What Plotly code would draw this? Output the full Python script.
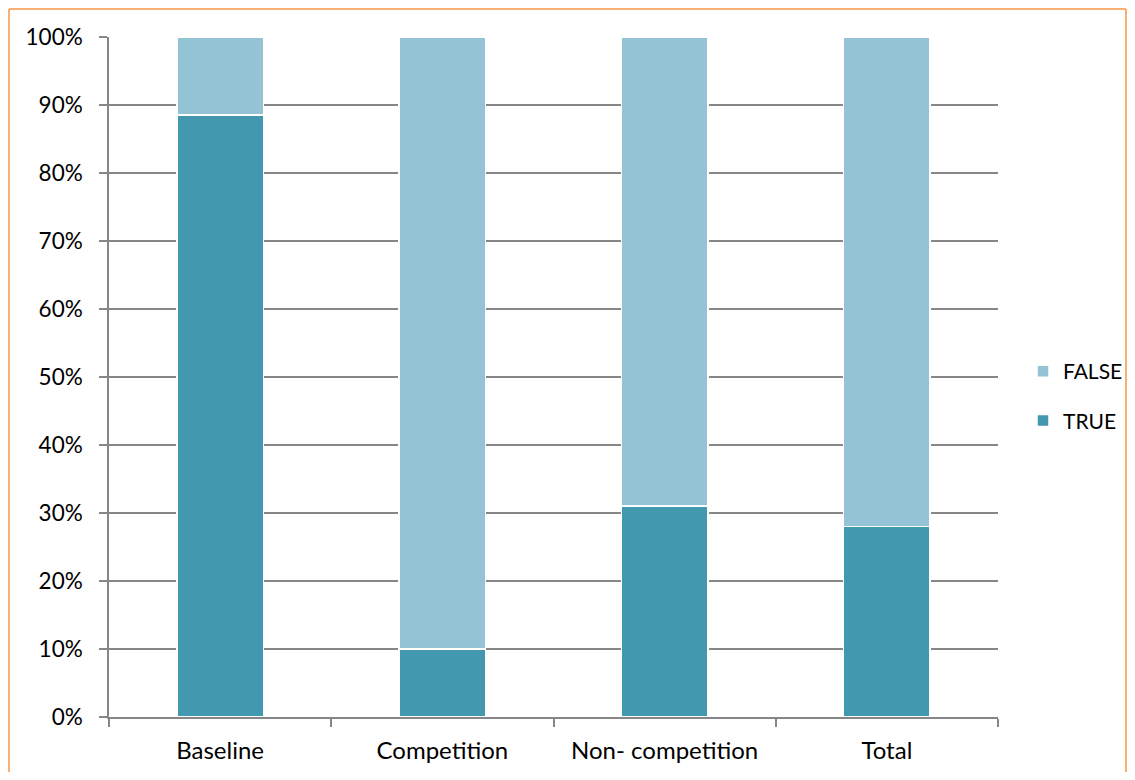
import plotly.graph_objects as go

categories = ["Baseline", "Competition", "Non- competition", "Total"]
true_pct = [88.5, 10, 31, 28]
false_pct = [11.5, 90, 69, 72]
y_ticks = [0, 10, 20, 30, 40, 50, 60, 70, 80, 90, 100]
y_tick_labels = [f"{v}%" for v in y_ticks]

FONT = "Lato, Carlito, Calibri, sans-serif"
OFF = 8  # page body margin
W, H = 1135 - 2 * OFF, 780 - 2 * OFF
L, T = 109 - OFF, 37 - OFF
R = W + OFF - 998
B = H + OFF - 717
pw, ph = W - L - R, H - T - B

def px_x(p):
    return (p - OFF - L) / pw

def px_y(p):
    return (H - B - (p - OFF)) / ph

fig = go.Figure()
fig.add_trace(go.Bar(x=categories, y=true_pct, name="TRUE", legendrank=2, legendgroup="t",
                     marker=dict(color="#4298AF", line=dict(color="white", width=1.5)),
                     width=0.39))
fig.add_trace(go.Bar(x=categories, y=false_pct, name="FALSE", legendrank=1, legendgroup="f",
                     marker=dict(color="#93C3D4", line=dict(color="white", width=1.5)),
                     width=0.39))

border = dict(color="#F79646", width=1.5)
bx0, bx1, by0, by1 = px_x(9), px_x(1126), px_y(790), px_y(9)

fig.update_layout(
    width=W, height=H,
    barmode="stack",
    margin=dict(l=L, r=R, t=T, b=B, pad=0, autoexpand=False),
    paper_bgcolor="white", plot_bgcolor="white",
    font=dict(family=FONT, size=22, color="#000000"),
    showlegend=True,
    legend=dict(x=px_x(1023), y=px_y(396), xanchor="left", yanchor="middle",
                traceorder="grouped", tracegroupgap=19, itemwidth=30,
                font=dict(family=FONT, size=21), bgcolor="rgba(0,0,0,0)"),
    xaxis=dict(type="category", tickson="boundaries", ticks="outside", ticklen=8,
               tickcolor="#868686", tickwidth=1.5, showgrid=False,
               showline=True, linecolor="#868686", linewidth=1.5,
               ticklabelstandoff=11, tickfont=dict(family=FONT, size=24)),
    yaxis=dict(range=[0, 100], tickvals=y_ticks, ticktext=y_tick_labels,
               ticks="outside", ticklen=8, tickcolor="#868686", tickwidth=1.5,
               showgrid=True, gridcolor="#868686", gridwidth=1.5,
               showline=True, linecolor="#868686", linewidth=1.5,
               zeroline=False, ticklabelstandoff=12,
               tickfont=dict(family=FONT, size=22.5)),
    shapes=[
        dict(type="line", xref="paper", yref="paper", x0=bx0, x1=bx1, y0=by1, y1=by1,
             line=border, layer="below"),
        dict(type="line", xref="paper", yref="paper", x0=bx0, x1=bx0, y0=by0, y1=by1,
             line=border, layer="below"),
        dict(type="line", xref="paper", yref="paper", x0=bx1, x1=bx1, y0=by0, y1=by1,
             line=border, layer="below"),
    ],
)

fig.write_html("out.html")
